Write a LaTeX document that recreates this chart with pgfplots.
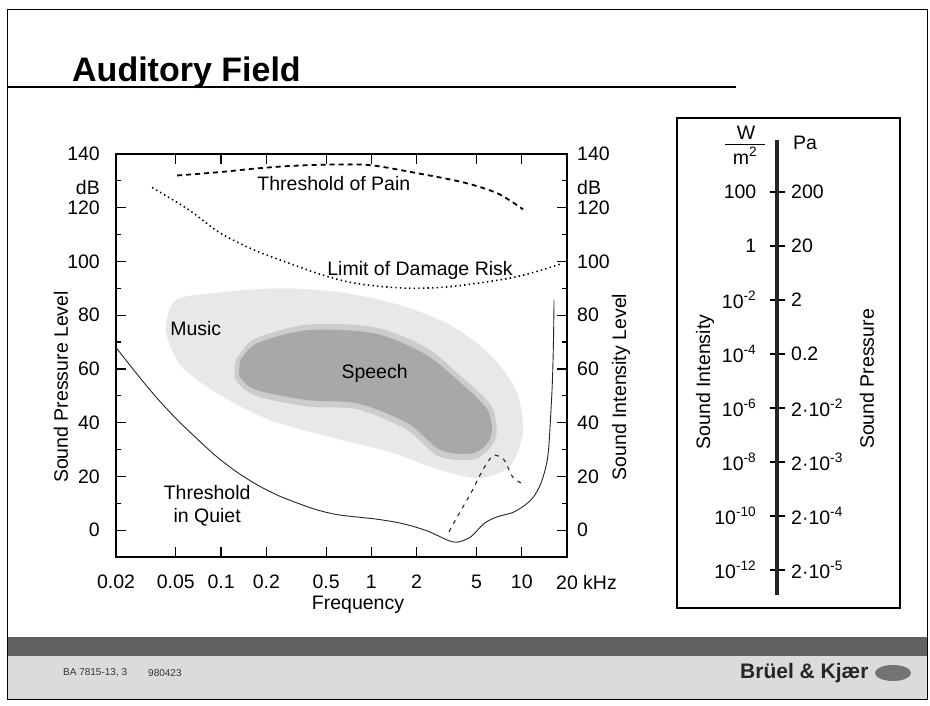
\documentclass[border=0pt]{standalone}
\usepackage{fontspec}
\setmainfont{Liberation Sans}
\usepackage{pgfplots}
\pgfplotsset{compat=1.18}
\newcommand\fs{\fontsize{19.5}{23}\selectfont}
\begin{document}
\fs
\begin{tikzpicture}[x=1pt,y=1pt]
\fill[white] (0,0) rectangle (930,706);
% footer bands
\fill[black!14] (7,6) rectangle (927,50);
\fill[black!62] (7,50) rectangle (927,69);
\draw[line width=1pt] (7,6) rectangle (927,696);
% title
\node[anchor=base west, inner sep=0pt, font=\fontsize{34}{40}\selectfont\bfseries] at (72,624) {Auditory Field};
\draw[line width=1.2pt] (7,619) -- (736,619);
% footer text
\node[anchor=west, inner sep=0pt, font=\fontsize{10}{12}\selectfont, text=black!80] at (63,33) {BA 7815-13, 3};
\node[anchor=west, inner sep=0pt, font=\fontsize{10}{12}\selectfont, text=black!80] at (148,33) {980423};
\node[anchor=west, inner sep=0pt, font=\fontsize{21}{24}\selectfont\bfseries, text=black!85] at (740,33) {Brüel \& Kjær};
\fill[black!55] (893,33) ellipse (18 and 8);

% main axis
\begin{axis}[
  at={(116pt,149pt)}, anchor=south west,
  scale only axis, width=451pt, height=403pt,
  xmode=log, xmin=0.02, xmax=20, ymin=-10, ymax=140,
  xtick={0.02,0.05,0.1,0.2,0.5,1,2,5,10,20},
  xticklabels={0.02,0.05,0.1,0.2,0.5,1,2,5,10,20\rlap{ kHz}},
  xminorticks=false,
  ytick={0,20,40,60,80,100,120,140},
  yticklabels={0,20,40,60,80,100,120,140},
  minor ytick={10,30,50,70,90,110,130},
  tick align=inside, tick pos=both,
  major tick length=10pt, minor tick length=5pt,
  every tick/.style={black, line width=1.2pt},
  axis line style={line width=1.6pt},
  every tick label/.append style={font=\fs},
  yticklabel style={inner sep=0pt, xshift=-16pt},
  xticklabel style={inner sep=0pt, yshift=-18pt},
  clip=false,
]
% Music region
\addplot[fill=black!9, draw=none, smooth] coordinates {
 (0.0425,74.4) (0.0495,85.5) (0.0986,88.5) (0.248,90.0) (0.622,88.5) (1.56,83.7)
 (3.37,76.2) (6.22,65.1) (9.14,52.1) (10.2,37.2) (8.47,24.2) (5.35,19.4)
 (2.89,22.3) (1.34,29.0) (0.534,34.6) (0.213,40.9) (0.0986,50.2) (0.0535,61.4)
 (0.0425,74.4)};
% Speech region (soft edge)
\addplot[fill=black!20, draw=none, smooth] coordinates {
 (0.125,63) (0.165,71) (0.375,76.5) (1.05,75.5) (2.3,68) (3.9,57.5) (6.3,46)
 (6.7,34) (4.9,26.5) (2.8,27.5) (1.7,37.5) (0.8,45) (0.375,46) (0.17,50) (0.125,56)
 (0.125,63)};
\addplot[fill=black!34, draw=none, smooth] coordinates {
 (0.134,63.2) (0.174,69.6) (0.375,74.4) (1.03,73.3) (2.23,65.8) (3.75,55.8)
 (5.95,44.6) (6.22,34.6) (4.80,28.7) (2.89,29.8) (1.74,39.8) (0.809,47.2)
 (0.375,48.4) (0.174,52.1) (0.134,56.9) (0.134,63.2)};
% Threshold of pain
\addplot[black, line width=1.8pt, dash pattern=on 5pt off 4pt, smooth] coordinates {
 (0.051,132) (0.1,133.3) (0.17,134.6) (0.3,135.6) (0.6,136.1) (1.0,135.8)
 (1.91,133.1) (4.11,129.4) (6.93,125.3) (10.2,119.4)};
% Limit of damage risk
\addplot[black, line width=1.6pt, dash pattern=on 1.4pt off 3.2pt, smooth] coordinates {
 (0.0348,127.5) (0.06,119.5) (0.0986,110.6) (0.165,104.3) (0.276,99.6) (0.458,95.2)
 (0.726,92.2) (1.2,90.6) (1.91,90) (3,90.4) (4.11,91.2) (6,92.5) (8.9,94.1)
 (13,96.5) (18,99)};
% Threshold in quiet
\addplot[black!85, line width=0.9pt, smooth, tension=0.5] coordinates {
 (0.02,68) (0.0272,58.5) (0.0370,49.5) (0.0502,41.5) (0.0683,34.3) (0.0928,27.5)
 (0.126,21.8) (0.172,17) (0.233,13.2) (0.317,10.2) (0.431,7.6) (0.586,5.8)
 (0.796,4.9) (1.08,4.1) (1.5,2.8) (1.92,1.3) (2.43,-0.6) (3.2,-3.7) (3.73,-4.5)
 (4.58,-2.5) (5.62,2.5) (6.9,5) (8.91,6.8) (11.5,11.2) (13.4,17.4) (14.9,27.3)
 (15.6,43.4) (16.0,55.8) (16.25,70) (16.4,85.5)};
% hearing loss dashed curve
\addplot[black!85, line width=1.1pt, dash pattern=on 4pt off 5pt, smooth] coordinates {
 (3.28,-0.6) (3.73,5) (4.58,13.7) (5.35,21.1) (5.95,25.4) (6.56,27.9)
 (7.64,26.1) (8.69,19.9) (10.4,16.8)};
% texts
\node[anchor=west, inner sep=0pt, font=\fs] at (axis cs:0.174,129) {Threshold of Pain};
\node[anchor=west, inner sep=0pt, font=\fs] at (axis cs:0.508,96.7) {Limit of Damage Risk};
\node[anchor=west, inner sep=0pt, font=\fs] at (axis cs:0.0458,75.1) {Music};
\node[inner sep=0pt, font=\fs] at (axis cs:1.05,58.4) {Speech};
\node[align=center, inner sep=0pt, font=\fs] at (axis cs:0.0808,9.0) {Threshold\\in Quiet};
\node[anchor=east, inner sep=0pt, font=\fs] at (axis cs:0.02,127.5) {dB\hspace*{16pt}};
\node[anchor=west, inner sep=0pt, font=\fs] at (axis cs:20,127.5) {\hspace*{10pt}dB};
\pgfplotsinvokeforeach{0,20,40,60,80,100,120,140}{
  \node[anchor=west, inner sep=0pt, font=\fs] at (axis cs:20,#1) {\hspace*{10pt}#1};
}
\end{axis}

\node[rotate=90, font=\fs] at (61,319) {Sound Pressure Level};
\node[rotate=90, font=\fs] at (621,319) {Sound Intensity Level};
\node[font=\fs] at (358,101) {Frequency};

% right panel
\draw[line width=1.4pt] (677,98) rectangle (900,588);
\begin{axis}[
  at={(777pt,111pt)}, anchor=south west,
  scale only axis, width=10pt, height=455pt,
  xmin=0, xmax=1, ymin=-9.26, ymax=159.26,
  axis x line=none, axis y line*=left,
  ytick={0,20,40,60,80,100,120,140},
  yticklabels={10\textsuperscript{-12},10\textsuperscript{-10},10\textsuperscript{-8},10\textsuperscript{-6},10\textsuperscript{-4},10\textsuperscript{-2},1,100},
  tick align=center, major tick length=15pt,
  every tick/.style={black, line width=1.2pt},
  axis line style={line width=3.5pt, black!85},
  every tick label/.append style={font=\fs},
  yticklabel style={inner sep=0pt, xshift=-13pt},
  clip=false,
]
\node[anchor=west, inner sep=0pt, font=\fs] at (axis cs:0,0) {\hspace*{14pt}2·10\textsuperscript{-5}};
\node[anchor=west, inner sep=0pt, font=\fs] at (axis cs:0,20) {\hspace*{14pt}2·10\textsuperscript{-4}};
\node[anchor=west, inner sep=0pt, font=\fs] at (axis cs:0,40) {\hspace*{14pt}2·10\textsuperscript{-3}};
\node[anchor=west, inner sep=0pt, font=\fs] at (axis cs:0,60) {\hspace*{14pt}2·10\textsuperscript{-2}};
\node[anchor=west, inner sep=0pt, font=\fs] at (axis cs:0,80) {\hspace*{14pt}0.2};
\node[anchor=west, inner sep=0pt, font=\fs] at (axis cs:0,100) {\hspace*{14pt}2};
\node[anchor=west, inner sep=0pt, font=\fs] at (axis cs:0,120) {\hspace*{14pt}20};
\node[anchor=west, inner sep=0pt, font=\fs] at (axis cs:0,140) {\hspace*{14pt}200};
\end{axis}
\node[font=\fs] at (746,573) {W};
\draw[line width=1pt] (725,561) -- (765,561);
\node[font=\fs] at (745,550) {m\textsuperscript{2}};
\node[anchor=west, inner sep=0pt, font=\fs] at (793,563) {Pa};
\node[rotate=90, font=\fs] at (705,324) {Sound Intensity};
\node[rotate=90, font=\fs] at (867,327) {Sound Pressure};
\end{tikzpicture}
\end{document}
